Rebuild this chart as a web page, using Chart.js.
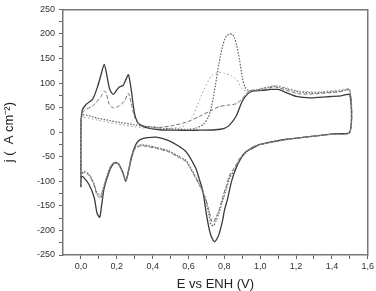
<!DOCTYPE html>
<html lang="pt-br">
<head>
    <meta charset="UTF-8" />
    <title>Voltametria</title>
    <script src="https://cdn.jsdelivr.net/npm/chart.js"></script>
    <style>
        html, body { margin: 0; padding: 0; background: #fff; }
        .chart { width: 376px; height: 291px; }
    </style>
</head>
<body>
    <div class="chart">
        <canvas id="cvChart"></canvas>
    </div>

    <script>
        // eixos
        const xTickValues = [0, 0.2, 0.4, 0.6, 0.8, 1.0, 1.2, 1.4, 1.6];
        const xTickLabels = ['0,0', '0,2', '0,4', '0,6', '0,8', '1,0', '1,2', '1,4', '1,6'];
        const xMinorValues = [0.1, 0.3, 0.5, 0.7, 0.9, 1.1, 1.3, 1.5];
        const yTickValues = [-250, -200, -150, -100, -50, 0, 50, 100, 150, 200, 250];
        const yTickLabels = ['-250', '-200', '-150', '-100', '-50', '0', '50', '100', '150', '200', '250'];
        const yMinorValues = [-225, -175, -125, -75, -25, 25, 75, 125, 175, 225];

        // curva continua (Pt limpa)
        const solidE = [0.0, 0.0, 0.005, 0.01, 0.03, 0.065, 0.093, 0.112, 0.13, 0.145, 0.16, 0.18, 0.2, 0.215, 0.235, 0.252, 0.265, 0.28, 0.298, 0.316, 0.34, 0.37, 0.44, 0.55, 0.65, 0.75, 0.8, 0.83, 0.866, 0.9, 0.93, 0.96, 1.01, 1.06, 1.1, 1.15, 1.2, 1.28, 1.37, 1.45, 1.5,
            1.5, 1.42, 1.3, 1.18, 1.1, 1.0, 0.96, 0.92, 0.89, 0.866, 0.84, 0.82, 0.8, 0.79, 0.77, 0.754, 0.745, 0.73, 0.717, 0.7, 0.68, 0.66, 0.64, 0.587, 0.54, 0.49, 0.42, 0.37, 0.344, 0.32, 0.3, 0.28, 0.265, 0.25, 0.232, 0.205, 0.186, 0.17, 0.158, 0.13, 0.115, 0.105, 0.09, 0.074, 0.046, 0.018, 0.005, 0.0];
        const solidJ = [-112, 20, 40, 47, 57, 67, 93, 117, 138, 115, 88, 77, 86, 92, 95, 108, 117, 88, 40, 20, 13, 9, 5, 4, 4, 5, 8, 15, 33, 63, 78, 84, 85, 87, 87, 80, 73, 70, 72, 74, 76,
            0, -3, -8, -13, -17, -25, -32, -40, -55, -73, -100, -133, -160, -180, -208, -220, -223, -215, -200, -167, -120, -95, -73, -40, -27, -17, -10, -11, -13, -18, -30, -53, -80, -100, -80, -63, -63, -70, -80, -113, -150, -173, -165, -133, -107, -93, -90, -100];

        // curva tracejada
        const dashE = [0.0, 0.0, 0.01, 0.03, 0.06, 0.084, 0.11, 0.13, 0.14, 0.158, 0.177, 0.205, 0.242, 0.264, 0.28, 0.3, 0.32, 0.36, 0.44, 0.52, 0.6, 0.66, 0.72, 0.77, 0.82, 0.866, 0.9, 0.93, 0.96, 1.01, 1.08, 1.15, 1.22, 1.3, 1.37, 1.44, 1.5,
            1.5, 1.4, 1.3, 1.18, 1.1, 1.0, 0.96, 0.92, 0.885, 0.86, 0.83, 0.81, 0.79, 0.77, 0.754, 0.74, 0.73, 0.71, 0.69, 0.66, 0.62, 0.587, 0.54, 0.49, 0.42, 0.37, 0.33, 0.3, 0.285, 0.265, 0.25, 0.235, 0.21, 0.19, 0.17, 0.15, 0.13, 0.11, 0.09, 0.07, 0.045, 0.02, 0.0];
        const dashJ = [-95, 20, 40, 47, 52, 60, 72, 83, 81, 57, 50, 52, 63, 79, 60, 30, 18, 12, 10, 14, 22, 32, 43, 52, 55, 58, 68, 82, 86, 86, 92, 85, 78, 78, 80, 82, 85,
            0, -4, -8, -13, -18, -25, -30, -40, -53, -70, -87, -110, -133, -160, -173, -183, -182, -153, -130, -107, -80, -60, -50, -40, -33, -29, -28, -35, -50, -80, -98, -85, -65, -62, -68, -85, -110, -135, -128, -105, -88, -82, -88];

        // pontilhado denso (pico em 0,84 V)
        const dotE = [0.0, 0.0, 0.01, 0.1, 0.2, 0.3, 0.4, 0.5, 0.6, 0.64, 0.68, 0.71, 0.73, 0.75, 0.77, 0.79, 0.81, 0.83, 0.845, 0.857, 0.87, 0.885, 0.9, 0.915, 0.93, 0.96, 1.0, 1.05, 1.09, 1.15, 1.22, 1.3, 1.38, 1.45, 1.5,
            1.5, 1.4, 1.3, 1.18, 1.1, 1.0, 0.96, 0.92, 0.885, 0.86, 0.83, 0.81, 0.79, 0.77, 0.754, 0.74, 0.725, 0.71, 0.69, 0.66, 0.62, 0.587, 0.54, 0.49, 0.42, 0.37, 0.33, 0.3, 0.285, 0.265, 0.25, 0.235, 0.21, 0.19, 0.17, 0.15, 0.13, 0.11, 0.09, 0.07, 0.045, 0.02, 0.0];
        const dotJ = [-110, 20, 35, 28, 21, 15, 10, 7, 6, 8, 15, 30, 55, 95, 140, 175, 195, 200, 199, 192, 175, 147, 112, 92, 86, 84, 88, 92, 94, 88, 82, 80, 82, 84, 86,
            0, -4, -8, -13, -18, -25, -30, -42, -56, -75, -93, -117, -140, -165, -180, -190, -188, -160, -132, -105, -78, -58, -48, -38, -31, -27, -26, -33, -48, -78, -97, -84, -64, -61, -67, -84, -108, -130, -124, -102, -86, -80, -85];

        // pontilhado esparso (pico em 0,78 V)
        const sparseE = [0.0, 0.0, 0.01, 0.1, 0.2, 0.3, 0.4, 0.5, 0.55, 0.59, 0.62, 0.65, 0.69, 0.73, 0.77, 0.8, 0.84, 0.866, 0.88, 0.9, 0.93, 0.96, 1.0, 1.05, 1.09, 1.15, 1.22, 1.3, 1.38, 1.45, 1.5,
            1.5, 1.4, 1.3, 1.18, 1.1, 1.0, 0.96, 0.92, 0.885, 0.86, 0.83, 0.81, 0.79, 0.77, 0.754, 0.74, 0.725, 0.71, 0.69, 0.66, 0.62, 0.587, 0.54, 0.49, 0.42, 0.37, 0.33, 0.3, 0.285, 0.265, 0.25, 0.235, 0.21, 0.19, 0.17, 0.15, 0.13, 0.11, 0.09, 0.07, 0.045, 0.02, 0.0];
        const sparseJ = [-105, 20, 30, 24, 17, 11, 7, 8, 10, 16, 30, 55, 90, 115, 122, 120, 115, 108, 100, 88, 84, 85, 88, 93, 95, 90, 84, 82, 84, 86, 88,
            0, -4, -8, -13, -18, -25, -30, -40, -54, -72, -90, -113, -137, -158, -172, -178, -177, -152, -128, -104, -79, -59, -49, -39, -32, -28, -27, -34, -49, -79, -98, -84, -64, -61, -67, -84, -106, -127, -121, -100, -85, -79, -85];

        function pontos(es, js) {
            return es.map((e, i) => ({ x: e, y: js[i] }));
        }

        const fonte = "'Liberation Sans', Arial, sans-serif";

        const ctx = document.getElementById('cvChart').getContext('2d');

        const cvChart = new Chart(ctx, {
            type: 'scatter',
            data: {
                datasets: [{
                    data: pontos(sparseE, sparseJ),
                    borderColor: '#9a9a9a',
                    borderWidth: 1,
                    borderDash: [1.5, 2.5],
                    showLine: true,
                    pointRadius: 0,
                    tension: 0.25
                }, {
                    data: pontos(dotE, dotJ),
                    borderColor: '#606060',
                    borderWidth: 1.2,
                    borderDash: [1.5, 1.5],
                    showLine: true,
                    pointRadius: 0,
                    tension: 0.25
                }, {
                    data: pontos(dashE, dashJ),
                    borderColor: '#707070',
                    borderWidth: 1,
                    borderDash: [4, 2],
                    showLine: true,
                    pointRadius: 0,
                    tension: 0.25
                }, {
                    data: pontos(solidE, solidJ),
                    borderColor: '#3a3a3a',
                    borderWidth: 1.3,
                    showLine: true,
                    pointRadius: 0,
                    tension: 0.25
                }]
            },
            options: {
                responsive: true,
                maintainAspectRatio: false,
                animation: false,
                layout: { padding: 0 },
                plugins: {
                    legend: { display: false },
                    tooltip: { enabled: false }
                },
                scales: {
                    x: {
                        type: 'linear',
                        position: 'bottom',
                        min: -0.1,
                        max: 1.6,
                        afterBuildTicks: (scale) => {
                            scale.ticks = xTickValues.concat(xMinorValues).sort((a, b) => a - b).map(v => ({ value: v }));
                        },
                        afterFit: (scale) => { scale.height = 36; },
                        ticks: {
                            autoSkip: false,
                            maxRotation: 0,
                            padding: 2,
                            color: '#333',
                            font: { family: fonte, size: 9 },
                            callback: (value) => {
                                const i = xTickValues.findIndex(v => Math.abs(v - value) < 1e-6);
                                return i >= 0 ? xTickLabels[i] : '';
                            }
                        },
                        grid: {
                            drawOnChartArea: false,
                            tickLength: 4,
                            tickColor: '#666'
                        },
                        border: { color: '#777', width: 1.5 },
                        title: {
                            display: true,
                            text: 'E vs ENH (V)',
                            color: '#222',
                            font: { family: fonte, size: 13, lineHeight: 1 },
                            padding: { top: 0, bottom: 0 }
                        }
                    },
                    y: {
                        type: 'linear',
                        position: 'left',
                        min: -250,
                        max: 250,
                        afterBuildTicks: (scale) => {
                            scale.ticks = yTickValues.concat(yMinorValues).sort((a, b) => a - b).map(v => ({ value: v }));
                        },
                        afterFit: (scale) => { scale.width = 63; },
                        ticks: {
                            autoSkip: false,
                            padding: 4,
                            color: '#333',
                            font: { family: fonte, size: 9 },
                            callback: (value) => {
                                const i = yTickValues.indexOf(value);
                                return i >= 0 ? yTickLabels[i] : '';
                            }
                        },
                        grid: {
                            drawOnChartArea: false,
                            tickLength: 4,
                            tickColor: '#666'
                        },
                        border: { color: '#777', width: 1.5 },
                        title: {
                            display: true,
                            text: 'j (  A cm⁻²)',
                            color: '#222',
                            font: { family: fonte, size: 13 },
                            padding: { top: 2, bottom: 0 }
                        }
                    },
                    xTopo: {
                        type: 'linear',
                        position: 'top',
                        afterFit: (scale) => { scale.height = 5; },
                        ticks: { display: false },
                        grid: { display: false },
                        border: { display: true, color: '#777', width: 1.5 }
                    },
                    yDireita: {
                        type: 'linear',
                        position: 'right',
                        afterFit: (scale) => { scale.width = 8; },
                        ticks: { display: false },
                        grid: { display: false },
                        border: { display: true, color: '#777', width: 1.5 }
                    }
                }
            }
        });
    </script>
</body>
</html>
